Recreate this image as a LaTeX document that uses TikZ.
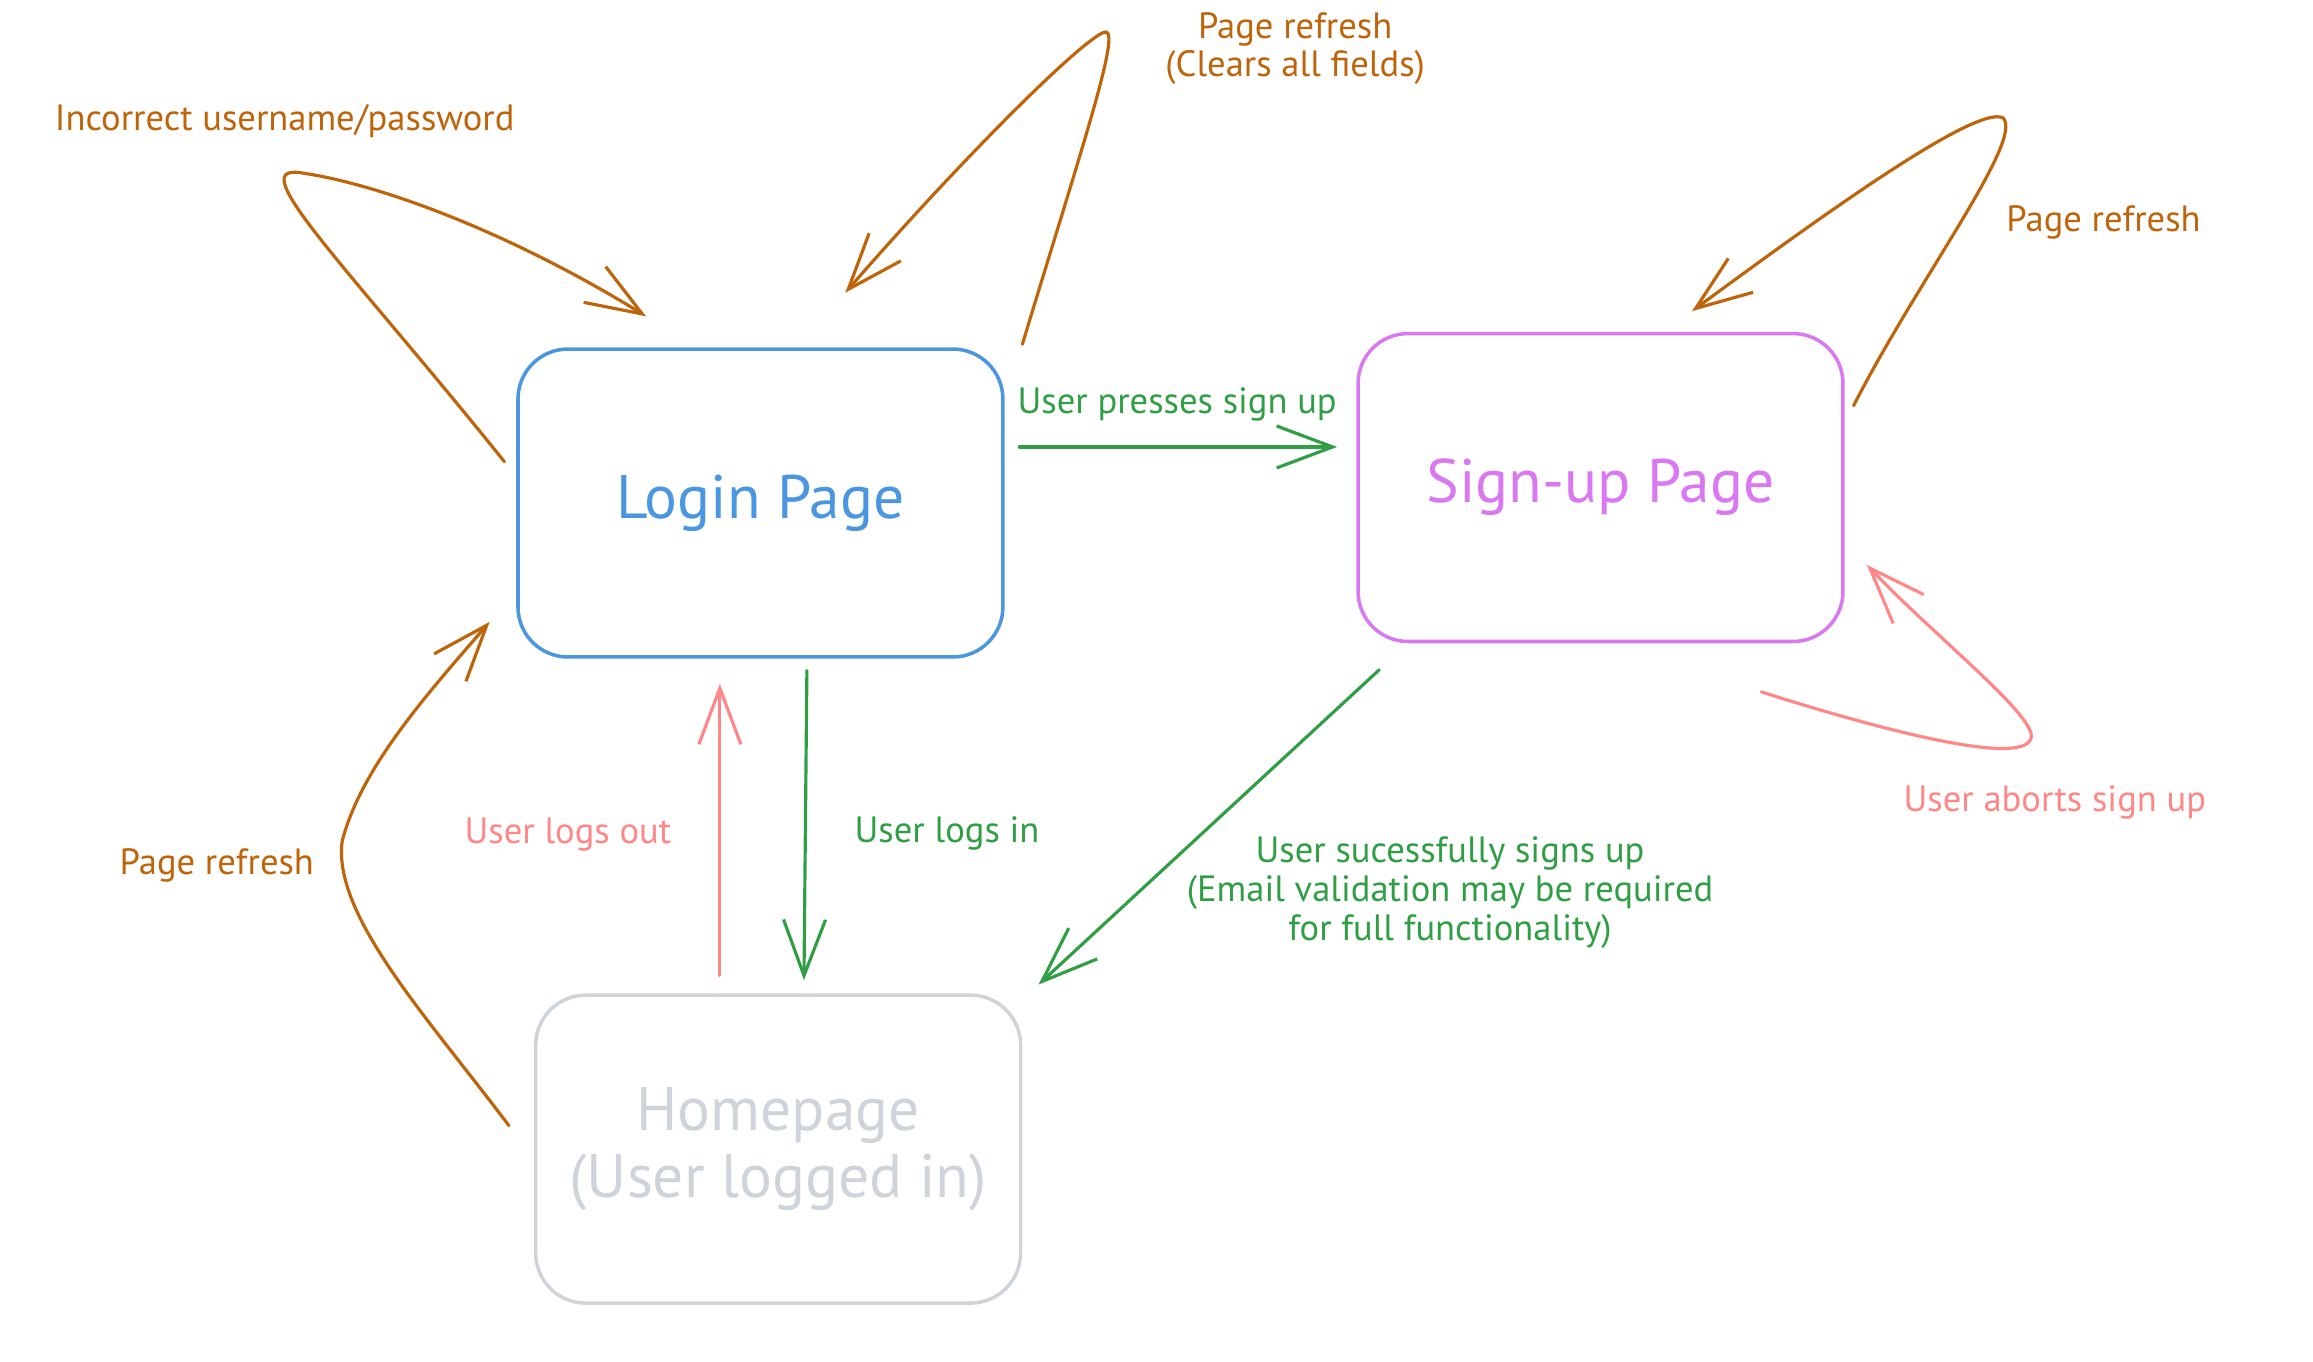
\documentclass[tikz,border=0pt]{standalone}
\usepackage{fontspec}
\setmainfont{PT Sans}
\usetikzlibrary{arrows.meta,calc}
\definecolor{cblue}{HTML}{4A96E0}
\definecolor{cviolet}{HTML}{DA77F2}
\definecolor{cgray}{HTML}{CED4DA}
\definecolor{cgreen}{HTML}{2F9E44}
\definecolor{cred}{HTML}{FF8787}
\definecolor{corange}{HTML}{BE640A}
\begin{document}
\begin{tikzpicture}[x=0.01475cm,y=-0.01475cm,
  pbox/.style={draw, line width=1pt, rounded corners=0.5cm, minimum width=4.85cm, minimum height=3.08cm, inner sep=0pt, align=center, font=\fontsize{17.5}{19}\selectfont},
  lbl/.style={inner sep=0pt, align=center, font=\fontsize{10.4}{11}\selectfont},
  conn/.style={line width=0.9pt, line cap=round, line join=round, -{Straight Barb[length=0.56cm,width=0.42cm,line width=0.9pt]}}]
\useasboundingbox (0,0) rectangle (1568,923);
% boxes
\node[pbox, draw=cblue, text=cblue] (login) at (515.5,341) {Login Page};
\node[pbox, draw=cviolet, text=cviolet] (signup) at (1085,330.5) {Sign-up Page};
\node[pbox, draw=cgray, text=cgray] (home) at (527.5,779) {Homepage\\(User logged in)};
% connector end points
\coordinate (a1s) at ($(login.west)+(-8,-28)$);
\coordinate (a1t) at ($(login.north)+(-77.5,-21)$);
\coordinate (a2s) at ($(login.north east)+(12,-2)$);
\coordinate (a2t) at ($(login.north)+(57.5,-37)$);
\coordinate (a3s) at ($(signup.east)+(6,-55.5)$);
\coordinate (a3t) at ($(signup.north)+(62,-14)$);
\coordinate (a4s) at ($(login.east)+(10,-38)$);
\coordinate (a4t) at ($(signup.west)+(-13,-27.5)$);
\coordinate (a5s) at ($(login.south)+(31.5,8)$);
\coordinate (a5t) at ($(home.north)+(17.5,-9)$);
\coordinate (a6s) at ($(home.north)+(-39.5,-12)$);
\coordinate (a6t) at ($(login.south)+(-27.5,17)$);
\coordinate (a7s) at ($(home.west)+(-17,-16)$);
\coordinate (a7t) at ($(login.south west)+(-18,-25)$);
\coordinate (a8s) at ($(signup.south)+(-150,18)$);
\coordinate (a8t) at ($(home.north east)+(11,-6)$);
\coordinate (a9s) at ($(signup.south)+(109,33)$);
\coordinate (a9t) at ($(signup.east)+(15,52.5)$);
% connectors
\draw[conn, corange] (a1s) .. controls (235,180) and (165,112) .. (203,117) .. controls (260,125) and (350,160) .. (a1t);
\draw[conn, corange] (a2s) .. controls (735,95) and (762,15) .. (748,22) .. controls (730,30) and (650,110) .. (a2t);
\draw[conn, corange] (a3s) .. controls (1300,190) and (1372,95) .. (1358,80) .. controls (1340,70) and (1230,150) .. (a3t);
\draw[conn, cgreen] (a4s) -- (a4t);
\draw[conn, cgreen] (a5s) -- (a5t);
\draw[conn, cred] (a6s) -- (a6t);
\draw[conn, corange] (a7s) .. controls (290,690) and (225,620) .. (232,570) .. controls (245,520) and (290,470) .. (a7t);
\draw[conn, cgreen] (a8s) -- (a8t);
\draw[conn, cred] (a9s) .. controls (1260,490) and (1372,522) .. (1377,500) .. controls (1380,485) and (1310,430) .. (a9t);
% labels
\node[lbl, text=corange] (l1) at (193,82) {Incorrect username/password};
\node[lbl, text=corange] (l2) at (878,33) {Page refresh\\(Clears all fields)};
\node[lbl, text=corange] (l3) at (1426,151) {Page refresh};
\node[lbl, text=cgreen] (l4) at (798,274) {User presses sign up};
\node[lbl, text=cred] (l5) at (385,566) {User logs out};
\node[lbl, text=cgreen] (l6) at (642,565) {User logs in};
\node[lbl, text=corange] (l7) at (147,587) {Page refresh};
\node[lbl, text=cgreen] (l8) at (983,605) {User sucessfully signs up\\(Email validation may be required\\for full functionality)};
\node[lbl, text=cred] (l9) at (1393,544) {User aborts sign up};
\end{tikzpicture}
\end{document}
